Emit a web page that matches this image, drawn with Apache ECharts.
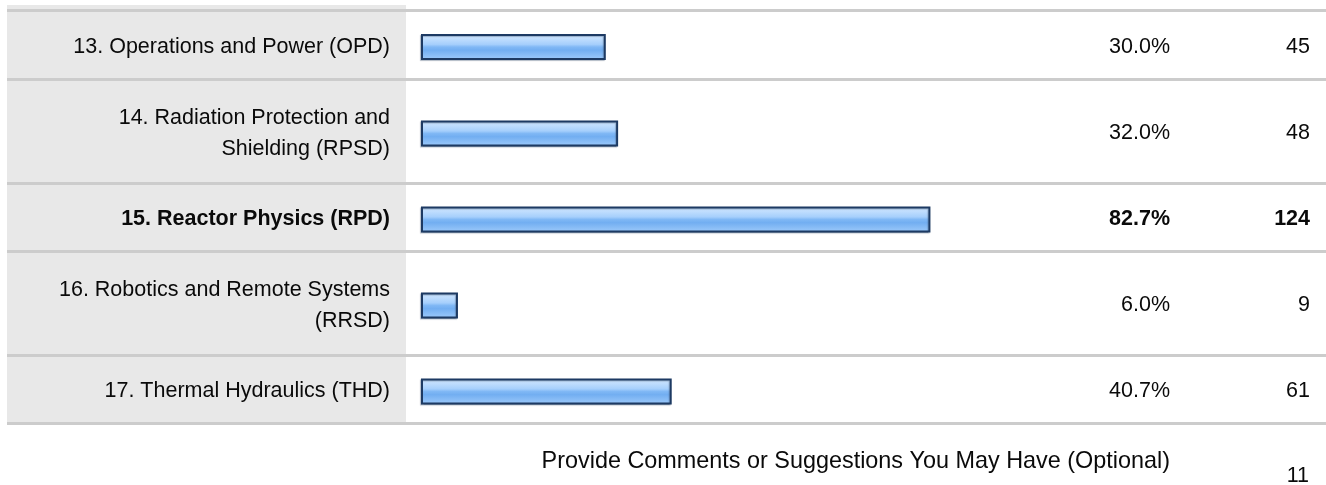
<!DOCTYPE html>
<html>
<head>
<meta charset="utf-8">
<script src="https://cdn.jsdelivr.net/npm/echarts@6/dist/echarts.min.js"></script>
<style>
html,body{margin:0;padding:0;background:#fff;}
#chart{width:1326px;height:485px;}
</style>
</head>
<body>
<div id="chart"></div>
<script>
// ---- data ----
var categories = [
  '13. Operations and Power (OPD)',
  '14. Radiation Protection and\nShielding (RPSD)',
  '15. Reactor Physics (RPD)',
  '16. Robotics and Remote Systems\n(RRSD)',
  '17. Thermal Hydraulics (THD)'
];
var percents = [30.0, 32.0, 82.7, 6.0, 40.7];
var counts = [45, 48, 124, 9, 61];
var highlighted = [false, false, true, false, false];
var commentLabel = 'Provide Comments or Suggestions You May Have (Optional)';
var commentCount = 11;

// ---- layout ----
var FONT = '"Liberation Sans", Arial, Helvetica, sans-serif';
var FS = 21.5;
var rowTops = [14, 83, 187, 255, 359];
var rowBottoms = [80, 184, 252, 356, 424];
var sepTops = [9, 78, 182, 250, 354, 422];
var plotLeft = 421, plotWidth = 616;
var plotRight = plotLeft + plotWidth;

var grids = [], xAxes = [], yAxes = [], series = [];
categories.forEach(function (cat, i) {
  var bold = highlighted[i] ? 'bold' : 'normal';
  grids.push({left: plotLeft, width: plotWidth, top: rowTops[i], height: rowBottoms[i] - rowTops[i]});
  xAxes.push({type: 'value', gridIndex: i, min: 0, max: 100, show: false});
  var base = {type: 'category', gridIndex: i, axisLine: {show: false}, axisTick: {show: false}, splitLine: {show: false}};
  yAxes.push(Object.assign({}, base, {
    position: 'left', data: [cat],
    axisLabel: {margin: 31, align: 'right', color: '#0a0a0a', fontFamily: FONT, fontSize: FS, lineHeight: 31, fontWeight: bold}
  }));
  yAxes.push(Object.assign({}, base, {
    position: 'right', data: [percents[i].toFixed(1) + '%'],
    axisLabel: {margin: 1170 - plotRight, align: 'right', color: '#0a0a0a', fontFamily: FONT, fontSize: FS, fontWeight: bold}
  }));
  yAxes.push(Object.assign({}, base, {
    position: 'right', data: [String(counts[i])],
    axisLabel: {margin: 1310 - plotRight, align: 'right', color: '#0a0a0a', fontFamily: FONT, fontSize: FS, fontWeight: bold}
  }));
  series.push({
    type: 'bar', xAxisIndex: i, yAxisIndex: i * 3, data: [percents[i]],
    barWidth: 26, silent: true, animation: false,
    itemStyle: {
      borderColor: '#1d3a63', borderWidth: 2,
      shadowColor: 'rgba(60,80,110,0.35)', shadowOffsetX: -1, shadowOffsetY: 1, shadowBlur: 1,
      color: new echarts.graphic.LinearGradient(0, 0, 0, 1, [
        {offset: 0, color: '#d6eaff'},
        {offset: 0.4, color: '#a6cffc'},
        {offset: 0.5, color: '#80b8f5'},
        {offset: 0.62, color: '#72aef1'},
        {offset: 1, color: '#9fcbfb'}
      ])
    }
  });
});

var graphics = [{type: 'rect', shape: {x: 7, y: 5, width: 399, height: 417}, style: {fill: '#e8e8e8'}, z: -10}];
sepTops.forEach(function (y) {
  graphics.push({type: 'rect', shape: {x: 7, y: y, width: 1319, height: 3}, style: {fill: '#cccccc'}, z: -9});
});
graphics.push({type: 'text', x: 1170, y: 462, style: {text: commentLabel, fill: '#0a0a0a', font: '23.4px ' + FONT, textAlign: 'right', textVerticalAlign: 'middle'}});
graphics.push({type: 'text', x: 1309, y: 476, style: {text: String(commentCount), fill: '#0a0a0a', font: FS + 'px ' + FONT, textAlign: 'right', textVerticalAlign: 'middle'}});

var chart = echarts.init(document.getElementById('chart'));
chart.setOption({
  animation: false,
  grid: grids, xAxis: xAxes, yAxis: yAxes, series: series,
  graphic: graphics
});
</script>
</body>
</html>
